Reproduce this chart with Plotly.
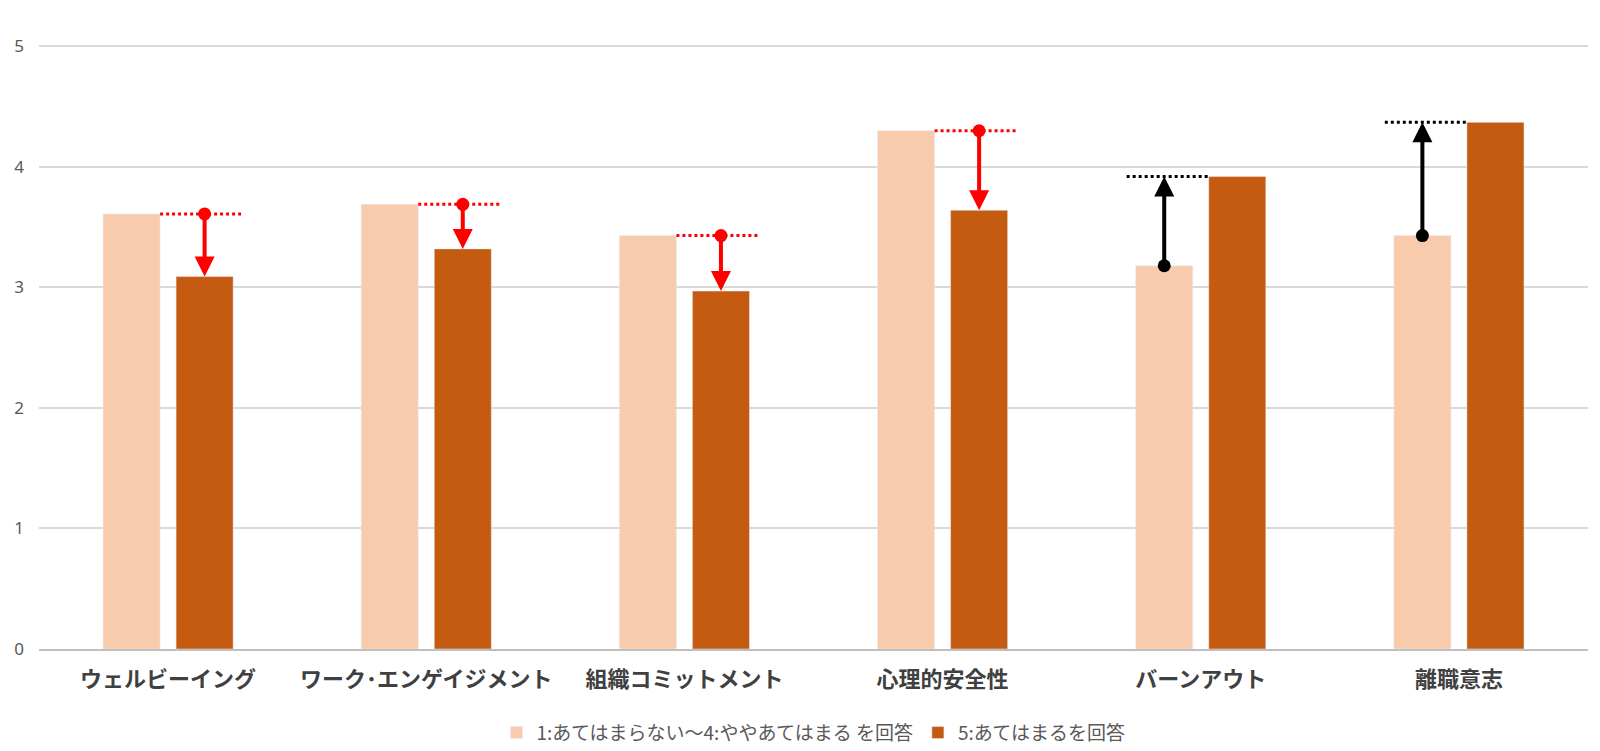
import plotly.graph_objects as go

categories = ['ウェルビーイング', 'ワーク･エンゲイジメント', '組織コミットメント', '心理的安全性', 'バーンアウト', '離職意志']
low_answer = [3.61, 3.69, 3.43, 4.30, 3.18, 3.43]
top_answer = [3.09, 3.32, 2.97, 3.64, 3.92, 4.37]
series_names = ['1:あてはまらない～4:ややあてはまる を回答', '5:あてはまるを回答']

LIGHT = '#F8CBAD'
DARK = '#C55A11'
JP_FONT = 'Noto Sans CJK JP'

# bar geometry in category units (1 category = 1.0)
bar_w = 0.221
light_off = -0.252
dark_off = 0.031
ext = 0.031

xs = list(range(len(categories)))

fig = go.Figure()
fig.add_trace(go.Bar(x=xs, y=low_answer, name=series_names[0], marker_color=LIGHT,
                     width=bar_w, offset=light_off))
fig.add_trace(go.Bar(x=xs, y=top_answer, name=series_names[1], marker_color=DARK,
                     width=bar_w, offset=dark_off))

annotations = []
for i, (lo, hi) in enumerate(zip(low_answer, top_answer)):
    if hi < lo:
        # drop: red arrow over the dark bar, dotted line at the light level
        color = '#FF0000'
        ax_x = i + dark_off + bar_w / 2
        line_x = [i + light_off + bar_w, i + dark_off + bar_w + ext]
        line_y = lo
    else:
        # rise: black arrow over the light bar, dotted line at the dark level
        color = '#000000'
        ax_x = i + light_off + bar_w / 2
        line_x = [i + light_off - ext - 0.004, i + dark_off]
        line_y = hi
    fig.add_trace(go.Scatter(x=line_x, y=[line_y, line_y], mode='lines',
                             line=dict(color=color, width=3, dash='dot'),
                             showlegend=False, hoverinfo='skip'))
    fig.add_trace(go.Scatter(x=[ax_x], y=[lo], mode='markers',
                             marker=dict(color=color, size=13),
                             showlegend=False, hoverinfo='skip'))
    annotations.append(dict(x=ax_x, y=hi, ax=ax_x, ay=lo, xref='x', yref='y',
                            axref='x', ayref='y', showarrow=True, text='',
                            arrowhead=2, arrowwidth=4, arrowsize=1.0,
                            arrowcolor=color, standoff=0, startstandoff=0))

# page body adds an 8px offset, so margins are pulled in by 8px
fig.update_layout(
    width=1600, height=751,
    margin=dict(l=31, r=20, t=36, b=110),
    plot_bgcolor='white', paper_bgcolor='white',
    barmode='overlay',
    annotations=annotations,
    legend=dict(orientation='h', x=0.5, xanchor='center', y=0.035, yanchor='middle',
                yref='container',
                font=dict(family=JP_FONT, size=19, color='#595959'),
                traceorder='normal', itemwidth=30),
    xaxis=dict(range=[-0.5, len(categories) - 0.5], tickmode='array', tickvals=xs,
               ticktext=categories, showgrid=False, zeroline=False, automargin=False,
               showline=True, linecolor='#BFBFBF', linewidth=2, ticks='',
               ticklabelstandoff=10,
               tickfont=dict(family=JP_FONT, size=22, color='#404040', weight='bold')),
    # a touch above 5 so the top gridline is still drawn
    yaxis=dict(range=[0, 5.02], tickvals=[0, 1, 2, 3, 4, 5], showgrid=True,
               gridcolor='#D9D9D9', gridwidth=1.5, zeroline=False, automargin=False,
               ticks='', ticklabelstandoff=14,
               tickfont=dict(family='Noto Sans', size=17, color='#595959')),
)

fig.write_html('out.html')
